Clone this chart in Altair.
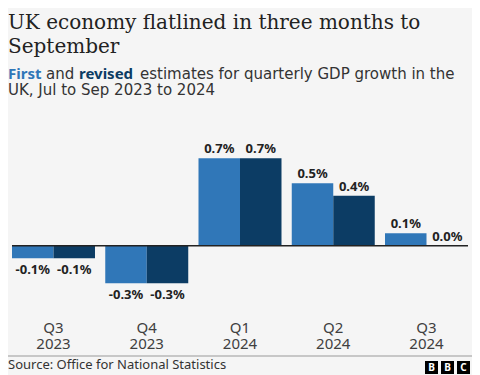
import altair as alt
import pandas as pd

quarters = ["Q3 2023", "Q4 2023", "Q1 2024", "Q2 2024", "Q3 2024"]
first_est = [-0.1, -0.3, 0.7, 0.5, 0.1]
revised_est = [-0.1, -0.3, 0.7, 0.4, 0.0]
series_names = ["First", "Revised"]
series_colors = ["#3077b8", "#0c3c64"]

rows = []
for q, f, r in zip(quarters, first_est, revised_est):
    rows.append({"quarter": q, "series": "First", "value": f})
    rows.append({"quarter": q, "series": "Revised", "value": r})
df = pd.DataFrame(rows)
df["label"] = df["value"].map(lambda v: f"{v:.1f}%")

qdf = pd.DataFrame({"quarter": quarters})
qdf["q"] = qdf["quarter"].str.split(" ").str[0]
qdf["yr"] = qdf["quarter"].str.split(" ").str[1]

BG = "#f5f5f5"
SANS = "Noto Sans"
SERIF = "DejaVu Serif"
REG = "DejaVu Sans"

xscale = alt.Scale(domain=quarters, paddingInner=0.11, paddingOuter=0)
x_enc = alt.X("quarter:N", sort=quarters, scale=xscale,
              axis=alt.Axis(title=None, orient="bottom", offset=18, domain=False,
                            ticks=True, tickSize=5, tickColor="#999999", tickWidth=1,
                            labels=False))
xoff = alt.XOffset("series:N", sort=series_names,
                   scale=alt.Scale(paddingInner=0, paddingOuter=0))
yscale = alt.Scale(domain=[-0.355, 0.766], nice=False, zero=False)
y_enc = alt.Y("value:Q", scale=yscale, axis=None)

base = alt.Chart(df)

bars = base.mark_bar().encode(
    x=x_enc, xOffset=xoff, y=y_enc, y2=alt.datum(0),
    color=alt.Color("series:N", scale=alt.Scale(domain=series_names, range=series_colors),
                    legend=None),
)

pos_labels = base.transform_filter("datum.value >= 0").mark_text(
    baseline="alphabetic", dy=-5, fontSize=13, fontWeight="bold", font=SANS, color="#222222"
).encode(x=x_enc, xOffset=xoff, y=y_enc, text="label:N")

neg_labels = base.transform_filter("datum.value < 0").mark_text(
    baseline="alphabetic", dy=16, fontSize=13, fontWeight="bold", font=SANS, color="#222222"
).encode(x=x_enc, xOffset=xoff, y=y_enc, text="label:N")

zero_rule = alt.Chart(pd.DataFrame({"v": [0]})).mark_rule(color="#222222", strokeWidth=1.5).encode(
    y=alt.Y("v:Q", scale=yscale, axis=None),
    x=alt.value(0), x2=alt.value(456)
)

# x-axis category labels (two lines) as text layers
xq = alt.X("quarter:N", sort=quarters, scale=xscale, axis=None)
qlab = alt.Chart(qdf).mark_text(fontSize=15, font=SANS, color="#404040", baseline="alphabetic",
                                align="center").encode(x=xq, y=alt.value(333 - 150), text="q:N")
ylab = alt.Chart(qdf).mark_text(fontSize=15, font=SANS, color="#404040", baseline="alphabetic",
                                align="center").encode(x=xq, y=alt.value(349 - 150), text="yr:N")

# Page coords -> plot coords: x - 12, y - 150
def tx(text, px, py, size, color="#222222", weight="normal", font=SANS, align="left"):
    return alt.Chart(pd.DataFrame({"t": [text]})).mark_text(
        align=align, baseline="alphabetic", fontSize=size, fontWeight=weight,
        font=font, color=color
    ).encode(x=alt.value(px - 12), y=alt.value(py - 150), text="t:N")

title1 = tx("UK economy flatlined in three months to", 8, 29, 20, "#222222", "normal", SERIF)
title2 = tx("September", 8, 53, 20, "#222222", "normal", SERIF)
sub_a = tx("First", 8, 79, 15, series_colors[0], "bold")
sub_b = tx("and", 46, 79, 15, "#333333", "normal", REG)
sub_c = tx("revised", 79, 79, 15, series_colors[1], "bold")
sub_d = tx("estimates for quarterly GDP growth in the", 140, 79, 15, "#333333", "normal", REG)
sub_e = tx("UK, Jul to Sep 2023 to 2024", 8, 95, 15, "#333333", "normal", REG)
source = tx("Source: Office for National Statistics", 8, 369, 13, "#333333")

bottom_rule = alt.Chart(pd.DataFrame({"a": [0]})).mark_rule(color="#999999", strokeWidth=1).encode(
    x=alt.value(-4), x2=alt.value(460), y=alt.value(356 - 150)
)

logo_x = [425, 441, 457]
logo_letters = ["B", "B", "C"]
logo_boxes = []
for x0, letter in zip(logo_x, logo_letters):
    logo_boxes.append(alt.Chart(pd.DataFrame({"l": [letter]})).mark_rect(color="#000000").encode(
        x=alt.value(x0 - 12), x2=alt.value(x0 + 13 - 12),
        y=alt.value(361 - 150), y2=alt.value(374 - 150)))
    logo_boxes.append(alt.Chart(pd.DataFrame({"l": [letter]})).mark_text(
        color="white", fontSize=10, fontWeight="bold", font=SANS, align="center", baseline="middle"
    ).encode(x=alt.value(x0 + 6.5 - 12), y=alt.value(367.8 - 150), text="l:N"))

chart = alt.layer(
    bars, zero_rule, pos_labels, neg_labels, qlab, ylab,
    title1, title2, sub_a, sub_b, sub_c, sub_d, sub_e, source, bottom_rule, *logo_boxes
).properties(
    width=456, height=140,
    padding={"left": 4, "top": 142, "right": 4, "bottom": 85},
    autosize=alt.AutoSizeParams(type="none"),
    background=BG,
).configure_view(stroke=None)

chart.save("out.html", embed_options={"renderer": "svg", "actions": False})
